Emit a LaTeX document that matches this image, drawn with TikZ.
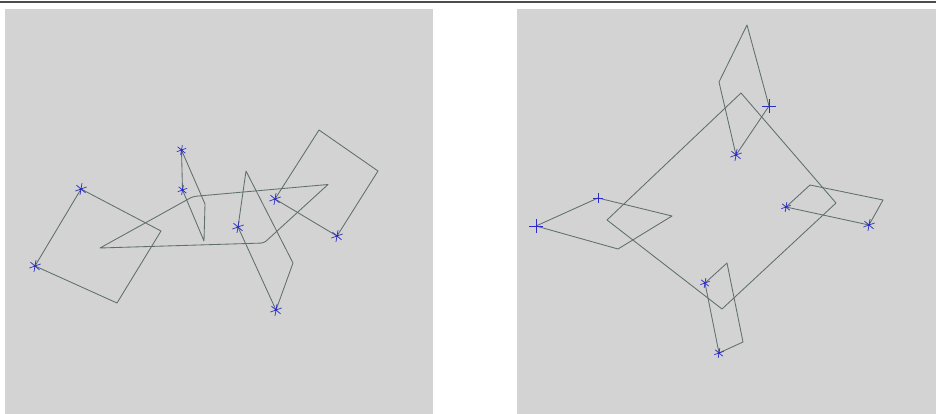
\documentclass[tikz,border=0pt]{standalone}
\usepackage{xcolor}
\usepackage{tikz}
\definecolor{panelgray}{HTML}{D3D3D3}
\definecolor{outlinegray}{HTML}{5F6F6C}
\definecolor{markerblue}{HTML}{2C2CC4}
\tikzset{
    sketch_outline/.style={line width=0.85pt, draw=outlinegray, line join=round},
    % Marker with three crossing strokes
    sketch_star/.pic={
        \foreach \a in {20,80,140} \draw[line width=0.7pt, markerblue] (\a:#1) -- (\a+180:#1);
        \fill[markerblue] (0,0) circle (1.4pt);
    },
    % Marker with two crossing strokes
    sketch_cross/.pic={
        \draw[line width=0.7pt, markerblue] (-#1,0) -- (#1,0);
        \draw[line width=0.7pt, markerblue] (0,-#1) -- (0,#1);
    },
}
\begin{document}
\begin{tikzpicture}[x=1pt, y=-1pt]
    \useasboundingbox (0,0) rectangle (936,414);
    % Top rule and the two panels
    \draw[line width=1.5pt, black!70] (0,2) -- (936,2);
    \fill[panelgray] (5,9) rectangle (433,414);
    \fill[panelgray] (517,9) rectangle (936,414);

    % Left panel: named corners
    \coordinate (la) at (81,189);
    \coordinate (lb) at (35,266);
    \coordinate (lc) at (117,303);
    \coordinate (ld) at (161,231);
    \coordinate (ma) at (181.5,150);
    \coordinate (mb) at (205,204);
    \coordinate (mc) at (204,241);
    \coordinate (md) at (182.5,190);
    \coordinate (na) at (238,227);
    \coordinate (nb) at (246,171);
    \coordinate (nc) at (293,263);
    \coordinate (nd) at (276,310);
    \coordinate (ra) at (275,199);
    \coordinate (rb) at (319,130);
    \coordinate (rc) at (378,171);
    \coordinate (rd) at (337,236);
    \coordinate (pa) at (100,248);
    \coordinate (pb) at (193,196.5);
    \coordinate (pc) at (328,184.5);
    \coordinate (pd) at (264,243);

    \draw[sketch_outline] (la) -- (lb) -- (lc) -- (ld) -- cycle;
    \draw[sketch_outline] (ma) -- (mb) -- (mc) -- (md) -- cycle;
    \draw[sketch_outline] (na) -- (nb) -- (nc) -- (nd) -- cycle;
    \draw[sketch_outline] (ra) -- (rb) -- (rc) -- (rd) -- cycle;
    \draw[sketch_outline] (pa) [rounded corners=3pt] -- (pb) [sharp corners] -- (pc) [rounded corners=3pt] -- (pd) [sharp corners] -- cycle;

    % Right panel: named corners
    \coordinate (wa) at (536,226);
    \coordinate (wb) at (598,198);
    \coordinate (wc) at (672,216);
    \coordinate (wd) at (618,249);
    \coordinate (ta) at (736,155);
    \coordinate (tb) at (719,82);
    \coordinate (tc) at (747,25);
    \coordinate (td) at (769,106);
    \coordinate (ea) at (786,207);
    \coordinate (eb) at (810,185);
    \coordinate (ec) at (883,200);
    \coordinate (ed) at (869,225);
    \coordinate (sa) at (705,283);
    \coordinate (sb) at (727,263);
    \coordinate (sc) at (743,342);
    \coordinate (sd) at (719,353);
    \coordinate (ba) at (607,220);
    \coordinate (bb) at (741,93);
    \coordinate (bc) at (836,203);
    \coordinate (bd) at (722,309);

    \draw[sketch_outline] (wa) -- (wb) -- (wc) -- (wd) -- cycle;
    \draw[sketch_outline] (ta) -- (tb) -- (tc) -- (td) -- cycle;
    \draw[sketch_outline] (ea) -- (eb) -- (ec) -- (ed) -- cycle;
    \draw[sketch_outline] (sa) -- (sb) -- (sc) -- (sd) -- cycle;
    \draw[sketch_outline] (ba) -- (bb) -- (bc) -- (bd) -- cycle;

    % Markers
    \foreach \p in {la,lb,na,ra,rd,nd,ta,ed} \pic at (\p) {sketch_star=6pt};
    \foreach \p in {ma,md,ea,sa,sd} \pic at (\p) {sketch_star=5pt};
    \foreach \p in {wa,td} \pic at (\p) {sketch_cross=7pt};
    \pic at (wb) {sketch_cross=5pt};
\end{tikzpicture}
\end{document}
